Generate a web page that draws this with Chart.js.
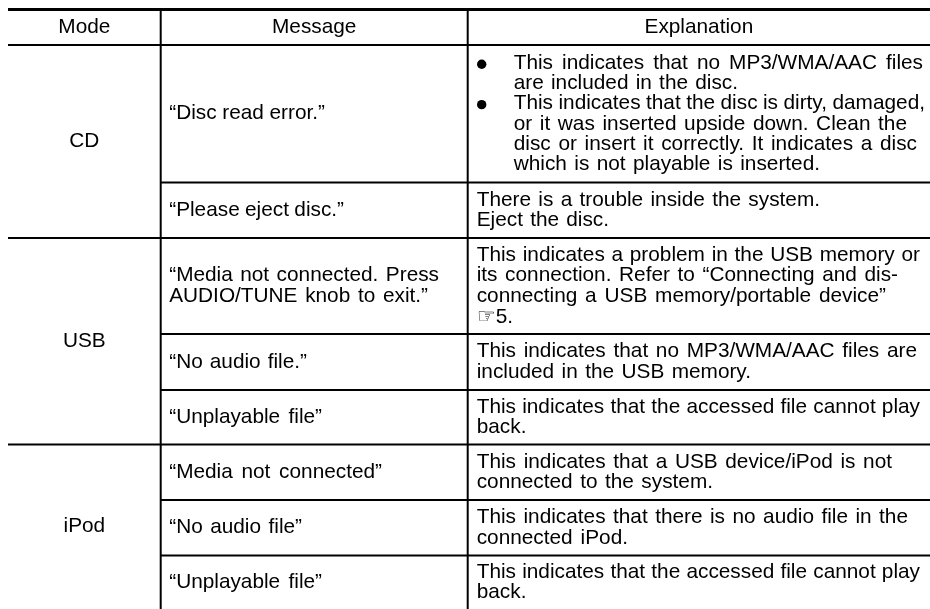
<!DOCTYPE html>
<html>
<head>
<meta charset="utf-8">
<style>
  html, body { margin: 0; padding: 0; background: #fff; }
  canvas { display: block; }
</style>
<script src="https://cdn.jsdelivr.net/npm/chart.js@4"></script>
</head>
<body>
<canvas id="tableChart" width="930" height="609"></canvas>
<script>
// Table content
const headers = ['Mode', 'Message', 'Explanation'];
const modes = ['CD', 'USB', 'iPod'];
const modeRows = [[1, 3], [3, 6], [6, 9]];
const messages = [
    ['\u201CDisc read error.\u201D'],
    ['\u201CPlease eject disc.\u201D'],
    ['\u201CMedia not connected. Press', 'AUDIO/TUNE knob to exit.\u201D'],
    ['\u201CNo audio file.\u201D'],
    ['\u201CUnplayable file\u201D'],
    ['\u201CMedia not connected\u201D'],
    ['\u201CNo audio file\u201D'],
    ['\u201CUnplayable file\u201D']
];
const explanations = [
    ['This indicates that no MP3/WMA/AAC files', 'are included in the disc.', 'This indicates that the disc is dirty, damaged,', 'or it was inserted upside down. Clean the', 'disc or insert it correctly. It indicates a disc', 'which is not playable is inserted.'],
    ['There is a trouble inside the system.', 'Eject the disc.'],
    ['This indicates a problem in the USB memory or', 'its connection. Refer to \u201CConnecting and dis-', 'connecting a USB memory/portable device\u201D', '\u261E5.'],
    ['This indicates that no MP3/WMA/AAC files are', 'included in the USB memory.'],
    ['This indicates that the accessed file cannot play', 'back.'],
    ['This indicates that a USB device/iPod is not', 'connected to the system.'],
    ['This indicates that there is no audio file in the', 'connected iPod.'],
    ['This indicates that the accessed file cannot play', 'back.']
];
const bulletLines = [0, 2];

// Table rules, in axis units
const colEdges = [8, 160.7, 467.7, 930];
const rowEdges = [9.5, 45, 182.5, 238, 334, 390, 444.5, 500, 555.5, 609];
const fullRows = [1, 3, 6];

// Where each line of text ends in the reference, the source justifies its lines
const messageEnds = [[325], [344], [439, 428], [307], [322], [382], [302], [322]];
const explanationEnds = [
    [923, 738, 925, 907, 917, 820],
    [820, 609],
    [920, 898, 886, 0],
    [917, 751],
    [920, 527],
    [892, 713],
    [908, 628],
    [920, 527]
];

const textFont = '20.8px "Liberation Sans", Arial, sans-serif';
const lineHeight = 20.7;
const firstCellLineHeight = 20.2;

function rule(points, width) {
    return {
        data: points,
        showLine: true,
        borderColor: '#000',
        borderWidth: width,
        pointRadius: 0,
        spanGaps: false
    };
}

const ruleSets = [rule([{x: colEdges[0], y: rowEdges[0]}, {x: colEdges[3], y: rowEdges[0]}], 3)];
rowEdges.slice(1, -1).forEach((y, i) => {
    const left = fullRows.includes(i + 1) ? colEdges[0] : colEdges[1];
    ruleSets.push(rule([{x: left, y: y}, {x: colEdges[3], y: y}], 2));
});
[colEdges[1], colEdges[2]].forEach(x => {
    ruleSets.push(rule([{x: x, y: rowEdges[0]}, {x: x, y: rowEdges[9]}], 2));
});

// Draws the cell text at positions taken from the chart scales
const tableText = {
    id: 'tableText',
    afterDatasetsDraw(chart) {
        const ctx = chart.ctx;
        const xs = chart.scales.x;
        const ys = chart.scales.y;
        const midX = (a, b) => (xs.getPixelForValue(a) + xs.getPixelForValue(b)) / 2;
        const midY = (a, b) => (ys.getPixelForValue(a) + ys.getPixelForValue(b)) / 2;

        ctx.save();
        ctx.fillStyle = '#000';
        ctx.font = textFont;
        ctx.textBaseline = 'middle';

        function block(lines, x, centerY, align, ends, pitch) {
            ctx.textAlign = align;
            lines.forEach((line, i) => {
                const y = centerY + (i - (lines.length - 1) / 2) * (pitch || lineHeight);
                ctx.wordSpacing = '0px';
                const spaces = line.split(' ').length - 1;
                if (ends && ends[i] && spaces > 0) {
                    const extra = (ends[i] - x - ctx.measureText(line).width) / spaces;
                    ctx.wordSpacing = extra.toFixed(2) + 'px';
                }
                ctx.fillText(line, x, y);
            });
            ctx.wordSpacing = '0px';
        }

        headers.forEach((h, i) => {
            block([h], midX(colEdges[i], colEdges[i + 1]), midY(rowEdges[0], rowEdges[1]), 'center');
        });
        modes.forEach((m, i) => {
            block([m], midX(colEdges[0], colEdges[1]), midY(rowEdges[modeRows[i][0]], rowEdges[modeRows[i][1]]), 'center');
        });
        const msgX = xs.getPixelForValue(colEdges[1]) + 8.5;
        const expX = xs.getPixelForValue(colEdges[2]) + 9;
        messages.forEach((lines, r) => {
            block(lines, msgX, midY(rowEdges[r + 1], rowEdges[r + 2]), 'left', messageEnds[r]);
        });
        explanations.forEach((lines, r) => {
            block(lines, r === 0 ? expX + 37 : expX, midY(rowEdges[r + 1], rowEdges[r + 2]), 'left',
                explanationEnds[r], r === 0 ? firstCellLineHeight : lineHeight);
        });
        // Bullets in the first cell
        const firstTop = midY(rowEdges[1], rowEdges[2]) - 2.5 * firstCellLineHeight + 1;
        bulletLines.forEach(n => {
            ctx.beginPath();
            ctx.arc(expX + 5, firstTop + n * firstCellLineHeight, 4.7, 0, Math.PI * 2);
            ctx.fill();
        });
        ctx.restore();
    }
};

const tableChart = new Chart(document.getElementById('tableChart').getContext('2d'), {
    type: 'scatter',
    data: { datasets: ruleSets },
    options: {
        responsive: false,
        animation: false,
        layout: { padding: 0 },
        plugins: { legend: { display: false }, tooltip: { enabled: false } },
        scales: {
            x: { type: 'linear', min: 0, max: 930, display: false },
            y: { type: 'linear', min: 0, max: 609, reverse: true, display: false }
        }
    },
    plugins: [tableText]
});
</script>
</body>
</html>
